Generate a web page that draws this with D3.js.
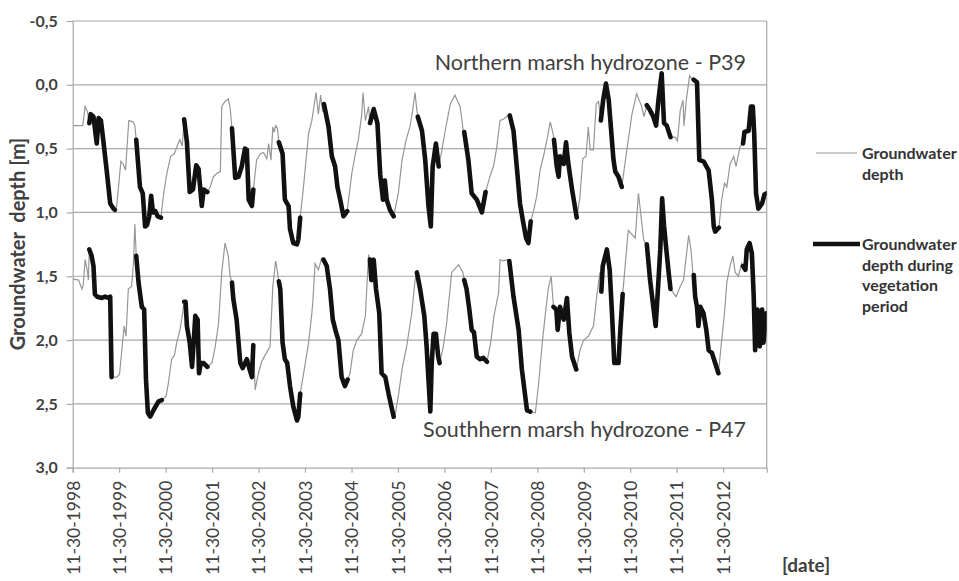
<!DOCTYPE html>
<html>
<head>
<meta charset="utf-8">
<script src="https://cdn.jsdelivr.net/npm/d3@7"></script>
<style>
  html, body { margin: 0; padding: 0; background: #fff; }
  svg { display: block; font-family: Lato, "Open Sans", sans-serif; }
</style>
</head>
<body>
<svg id="chart" width="959" height="581"></svg>
<script>
// [decimal year, groundwater depth (m), vegetation period flag]
const p39 = [
[1998.91,0.32,0],[1999.13,0.32,0],[1999.18,0.17,0],[1999.23,0.21,0],
[1999.27,0.30,1],[1999.30,0.23,1],[1999.36,0.25,1],[1999.43,0.46,1],[1999.47,0.26,1],[1999.52,0.28,1],[1999.56,0.40,1],[1999.65,0.69,1],[1999.72,0.93,1],[1999.79,0.97,1],[1999.82,0.98,1],
[1999.86,0.95,0],[1999.95,0.60,0],[2000.00,0.62,0],[2000.05,0.67,0],[2000.12,0.28,0],[2000.21,0.29,0],[2000.25,0.32,0],
[2000.28,0.43,1],[2000.36,0.80,1],[2000.42,0.85,1],[2000.47,1.11,1],[2000.51,1.10,1],[2000.56,1.03,1],[2000.60,0.87,1],[2000.64,1.00,1],[2000.69,0.99,1],[2000.74,1.03,1],[2000.81,1.04,1],
[2000.87,0.85,0],[2000.94,0.69,0],[2001.02,0.56,0],[2001.10,0.54,0],[2001.17,0.47,0],[2001.22,0.43,0],[2001.27,0.48,0],
[2001.31,0.27,1],[2001.37,0.45,1],[2001.43,0.84,1],[2001.50,0.82,1],[2001.57,0.63,1],[2001.62,0.66,1],[2001.69,0.95,1],[2001.73,0.82,1],[2001.81,0.84,1],
[2001.87,0.80,0],[2001.94,0.72,0],[2002.03,0.69,0],[2002.09,0.68,0],[2002.12,0.17,0],[2002.19,0.13,0],[2002.26,0.11,0],[2002.30,0.18,0],
[2002.34,0.34,1],[2002.41,0.73,1],[2002.48,0.72,1],[2002.55,0.64,1],[2002.62,0.50,1],[2002.66,0.51,1],[2002.70,0.90,1],[2002.77,0.95,1],[2002.80,0.82,1],
[2002.87,0.59,0],[2002.95,0.54,0],[2003.02,0.53,0],[2003.09,0.58,0],[2003.13,0.46,0],[2003.18,0.59,0],[2003.22,0.33,0],[2003.25,0.37,0],[2003.28,0.32,0],[2003.32,0.34,0],
[2003.35,0.45,1],[2003.43,0.54,1],[2003.48,0.90,1],[2003.56,0.95,1],[2003.59,1.13,1],[2003.66,1.24,1],[2003.74,1.25,1],[2003.77,1.21,1],[2003.81,1.04,1],
[2003.88,0.80,0],[2003.99,0.38,0],[2004.06,0.28,0],[2004.15,0.06,0],[2004.20,0.23,0],[2004.25,0.08,0],[2004.29,0.21,0],
[2004.32,0.15,1],[2004.42,0.33,1],[2004.49,0.56,1],[2004.56,0.64,1],[2004.61,0.80,1],[2004.67,0.90,1],[2004.74,1.03,1],[2004.82,0.99,1],
[2004.92,0.69,0],[2004.99,0.55,0],[2005.06,0.43,0],[2005.13,0.24,0],[2005.16,0.06,0],[2005.21,0.28,0],[2005.28,0.17,0],
[2005.31,0.30,1],[2005.39,0.19,1],[2005.47,0.30,1],[2005.53,0.70,1],[2005.59,0.90,1],[2005.63,0.75,1],[2005.67,0.90,1],[2005.74,0.98,1],[2005.82,1.03,1],
[2005.92,0.85,0],[2006.00,0.59,0],[2006.09,0.43,0],[2006.17,0.33,0],[2006.23,0.20,0],[2006.28,0.06,0],[2006.32,0.20,0],
[2006.34,0.25,1],[2006.43,0.36,1],[2006.50,0.59,1],[2006.57,0.95,1],[2006.62,1.11,1],[2006.66,0.64,1],[2006.73,0.46,1],[2006.79,0.64,1],
[2006.86,0.51,0],[2006.93,0.36,0],[2007.04,0.15,0],[2007.14,0.08,0],[2007.25,0.17,0],[2007.32,0.36,0],
[2007.34,0.37,1],[2007.43,0.59,1],[2007.50,0.85,1],[2007.61,0.90,1],[2007.72,1.00,1],[2007.80,0.84,1],
[2007.90,0.71,0],[2007.97,0.64,0],[2008.04,0.49,0],[2008.11,0.28,0],[2008.18,0.27,0],[2008.29,0.24,0],
[2008.32,0.24,1],[2008.40,0.36,1],[2008.47,0.64,1],[2008.54,0.93,1],[2008.60,1.06,1],[2008.67,1.20,1],[2008.72,1.24,1],[2008.77,1.07,1],
[2008.83,0.99,0],[2008.90,0.87,0],[2008.97,0.67,0],[2009.05,0.55,0],[2009.12,0.43,0],[2009.19,0.29,0],[2009.25,0.38,0],
[2009.27,0.43,1],[2009.33,0.64,1],[2009.37,0.72,1],[2009.40,0.56,1],[2009.48,0.62,1],[2009.53,0.45,1],[2009.58,0.62,1],[2009.66,0.82,1],[2009.76,1.04,1],
[2009.83,0.88,0],[2009.89,0.58,0],[2009.96,0.56,0],[2010.01,0.33,0],[2010.05,0.51,0],[2010.12,0.51,0],[2010.18,0.15,0],[2010.23,0.13,0],
[2010.28,0.28,1],[2010.33,0.12,1],[2010.39,-0.01,1],[2010.45,0.12,1],[2010.55,0.58,1],[2010.59,0.68,1],[2010.66,0.72,1],[2010.73,0.80,1],
[2010.84,0.51,0],[2010.95,0.23,0],[2011.05,0.07,0],[2011.16,0.17,0],[2011.21,0.25,0],
[2011.27,0.16,1],[2011.34,0.20,1],[2011.41,0.25,1],[2011.47,0.32,1],[2011.52,0.12,1],[2011.59,-0.09,1],[2011.64,0.30,1],[2011.70,0.32,1],[2011.78,0.41,1],
[2011.88,0.41,0],[2011.93,0.44,0],[2011.99,0.20,0],[2012.05,0.12,0],[2012.07,0.32,0],[2012.12,0.12,0],[2012.19,-0.07,0],[2012.25,-0.04,0],
[2012.28,-0.04,1],[2012.35,-0.02,1],[2012.40,0.59,1],[2012.49,0.60,1],[2012.60,0.67,1],[2012.67,0.90,1],[2012.71,1.11,1],[2012.74,1.15,1],[2012.82,1.12,1],
[2012.88,0.90,0],[2012.94,0.77,0],[2012.99,0.80,0],[2013.06,0.62,0],[2013.14,0.56,0],[2013.19,0.64,0],[2013.27,0.49,0],[2013.32,0.46,0],
[2013.34,0.46,1],[2013.37,0.37,1],[2013.46,0.36,1],[2013.51,0.17,1],[2013.55,0.17,1],[2013.58,0.38,1],[2013.62,0.85,1],[2013.67,0.97,1],[2013.75,0.93,1],[2013.80,0.86,1],[2013.85,0.85,1]
];

const p47 = [
[1998.91,1.52,0],[1999.04,1.53,0],[1999.11,1.60,0],[1999.14,1.57,0],[1999.18,1.37,0],[1999.23,1.46,0],[1999.25,1.53,0],
[1999.27,1.29,1],[1999.32,1.34,1],[1999.36,1.42,1],[1999.39,1.64,1],[1999.44,1.66,1],[1999.54,1.67,1],[1999.61,1.66,1],[1999.68,1.67,1],[1999.72,1.66,1],[1999.75,2.29,1],
[1999.86,2.29,0],[1999.92,2.27,0],[1999.97,2.08,0],[2000.02,1.89,0],[2000.06,1.97,0],[2000.11,1.60,0],[2000.18,1.58,0],[2000.22,1.40,0],[2000.25,1.09,0],
[2000.28,1.34,1],[2000.33,1.55,1],[2000.40,1.74,1],[2000.45,1.76,1],[2000.49,2.31,1],[2000.53,2.57,1],[2000.58,2.60,1],[2000.65,2.55,1],[2000.76,2.48,1],[2000.83,2.47,1],
[2000.92,2.44,0],[2000.97,2.34,0],[2001.04,2.15,0],[2001.10,2.12,0],[2001.15,2.02,0],[2001.22,1.92,0],[2001.27,1.81,0],
[2001.31,1.70,1],[2001.34,1.70,1],[2001.37,1.89,1],[2001.43,2.02,1],[2001.48,2.21,1],[2001.51,2.05,1],[2001.55,1.81,1],[2001.60,1.84,1],[2001.63,2.26,1],[2001.67,2.18,1],[2001.73,2.18,1],[2001.81,2.21,1],
[2001.91,2.18,0],[2001.98,2.05,0],[2002.05,1.87,0],[2002.12,1.47,0],[2002.19,1.24,0],[2002.26,1.34,0],[2002.30,1.50,0],
[2002.34,1.55,1],[2002.37,1.68,1],[2002.44,1.84,1],[2002.52,2.18,1],[2002.57,2.22,1],[2002.66,2.15,1],[2002.72,2.23,1],[2002.77,2.29,1],[2002.80,2.04,1],
[2002.84,2.39,0],[2002.91,2.26,0],[2002.98,2.17,0],[2003.05,2.12,0],[2003.16,2.05,0],[2003.22,1.58,0],[2003.28,1.38,0],[2003.32,1.47,0],
[2003.35,1.54,1],[2003.38,1.60,1],[2003.43,2.02,1],[2003.48,2.15,1],[2003.53,2.18,1],[2003.59,2.36,1],[2003.66,2.52,1],[2003.74,2.63,1],[2003.77,2.60,1],[2003.81,2.42,1],
[2003.92,2.18,0],[2003.99,2.02,0],[2004.06,1.79,0],[2004.08,1.71,0],[2004.13,1.40,0],[2004.20,1.45,0],[2004.27,1.36,0],
[2004.31,1.37,1],[2004.38,1.42,1],[2004.45,1.60,1],[2004.51,1.84,1],[2004.58,1.94,1],[2004.63,2.00,1],[2004.70,2.29,1],[2004.77,2.36,1],[2004.83,2.31,1],
[2004.88,2.26,0],[2004.95,2.08,0],[2005.03,2.00,0],[2005.13,1.95,0],[2005.21,1.81,0],[2005.28,1.33,0],
[2005.31,1.37,1],[2005.34,1.53,1],[2005.39,1.37,1],[2005.44,1.60,1],[2005.51,1.79,1],[2005.56,2.26,1],[2005.64,2.29,1],[2005.71,2.42,1],[2005.82,2.60,1],
[2005.85,2.59,0],[2005.92,2.44,0],[2006.00,2.23,0],[2006.10,2.05,0],[2006.21,1.79,0],[2006.28,1.53,0],
[2006.32,1.47,1],[2006.39,1.60,1],[2006.48,1.81,1],[2006.53,2.05,1],[2006.57,2.31,1],[2006.61,2.56,1],[2006.64,2.18,1],[2006.68,1.95,1],[2006.73,1.95,1],[2006.78,2.13,1],[2006.81,2.18,1],
[2006.89,2.05,0],[2006.96,1.87,0],[2007.07,1.47,0],[2007.22,1.41,0],[2007.31,1.47,0],
[2007.34,1.53,1],[2007.39,1.60,1],[2007.45,1.76,1],[2007.50,1.92,1],[2007.55,1.94,1],[2007.61,2.13,1],[2007.68,2.15,1],[2007.75,2.14,1],[2007.83,2.17,1],
[2007.91,2.02,0],[2007.98,1.81,0],[2008.08,1.63,0],[2008.11,1.37,0],[2008.18,1.38,0],[2008.26,1.37,0],
[2008.31,1.38,1],[2008.40,1.66,1],[2008.51,1.92,1],[2008.58,2.23,1],[2008.69,2.55,1],[2008.76,2.56,1],
[2008.87,2.57,0],[2008.94,2.34,0],[2009.01,2.05,0],[2009.08,1.81,0],[2009.15,1.59,0],[2009.21,1.50,0],
[2009.26,1.74,1],[2009.32,1.76,1],[2009.35,1.92,1],[2009.40,1.74,1],[2009.48,1.84,1],[2009.55,1.67,1],[2009.60,1.94,1],[2009.66,2.13,1],[2009.75,2.23,1],
[2009.83,2.08,0],[2009.91,2.00,0],[2010.01,1.97,0],[2010.12,1.89,0],[2010.19,1.66,0],[2010.26,1.47,0],
[2010.29,1.62,1],[2010.32,1.42,1],[2010.41,1.29,1],[2010.47,1.45,1],[2010.52,1.79,1],[2010.57,2.18,1],[2010.66,2.18,1],[2010.70,1.92,1],[2010.75,1.64,1],
[2010.87,1.14,0],[2011.02,1.20,0],[2011.09,0.85,0],[2011.20,1.21,0],[2011.25,1.25,0],
[2011.27,1.25,1],[2011.34,1.53,1],[2011.41,1.74,1],[2011.46,1.89,1],[2011.50,1.66,1],[2011.56,1.29,1],[2011.60,0.89,1],[2011.64,1.10,1],[2011.69,1.29,1],[2011.74,1.47,1],[2011.78,1.60,1],
[2011.84,1.63,0],[2011.90,1.66,0],[2011.99,1.58,0],[2012.06,1.53,0],[2012.12,1.34,0],[2012.17,1.18,0],[2012.22,1.29,0],[2012.26,1.47,0],
[2012.28,1.49,1],[2012.31,1.66,1],[2012.35,1.74,1],[2012.38,1.89,1],[2012.42,1.74,1],[2012.49,1.79,1],[2012.55,1.92,1],[2012.60,2.08,1],[2012.67,2.10,1],[2012.74,2.18,1],[2012.81,2.26,1],
[2012.88,2.00,0],[2012.94,1.79,0],[2012.99,1.55,0],[2013.06,1.42,0],[2013.12,1.34,0],[2013.17,1.47,0],[2013.24,1.50,0],[2013.31,1.40,0],
[2013.34,1.42,1],[2013.39,1.45,1],[2013.42,1.29,1],[2013.48,1.24,1],[2013.53,1.32,1],[2013.57,1.66,1],[2013.60,2.08,1],[2013.65,1.76,1],[2013.70,2.05,1],[2013.75,1.76,1],[2013.78,2.02,1],[2013.84,1.79,1]
];

const xTickDates = ["1998-11-30","1999-11-30","2000-11-30","2001-11-30","2002-11-30","2003-11-30","2004-11-30","2005-11-30","2006-11-30","2007-11-30","2008-11-30","2009-11-30","2010-11-30","2011-11-30","2012-11-30"];
const xTickLabels = ["11-30-1998","11-30-1999","11-30-2000","11-30-2001","11-30-2002","11-30-2003","11-30-2004","11-30-2005","11-30-2006","11-30-2007","11-30-2008","11-30-2009","11-30-2010","11-30-2011","11-30-2012"];
const yTicks = [-0.5, 0.0, 0.5, 1.0, 1.5, 2.0, 2.5, 3.0];
const yTickLabels = ["-0,5","0,0","0,5","1,0","1,5","2,0","2,5","3,0"];
const xDomain = ["1998-11-30","2013-11-07"];
const yDomain = [-0.5, 3.0];
const legendLabels = [["Groundwater","depth"],["Groundwater","depth during","vegetation","period"]];
const zoneLabels = ["Northern marsh hydrozone - P39","Southhern marsh hydrozone - P47"];

function decToDate(y) {
  const yr = Math.floor(y);
  const a = new Date(yr, 0, 1), b = new Date(yr + 1, 0, 1);
  return new Date(+a + (y - yr) * (b - a));
}
const parse = d3.timeParse("%Y-%m-%d");

const svg = d3.select("#chart");
const L = 72.7, R = 766.7, T = 21, B = 467.7;
const x = d3.scaleTime().domain(xDomain.map(parse)).range([L, R]);
const y = d3.scaleLinear().domain(yDomain).range([T, B]);

const gridColor = "#a9a9a9";
const textColor = "#404040";

// gridlines
svg.append("g").selectAll("line").data(yTicks.slice(0, -1)).join("line")
  .attr("x1", L).attr("x2", R).attr("y1", d => y(d)).attr("y2", d => y(d))
  .attr("stroke", gridColor).attr("stroke-width", 1.2);

// y axis
const yAxis = d3.axisLeft(y).tickValues(yTicks).tickSize(6).tickFormat((d, i) => yTickLabels[i]);
const gy = svg.append("g").attr("transform", `translate(${L},0)`).call(yAxis);
gy.select(".domain").attr("stroke", gridColor).attr("stroke-width", 1.2);
gy.selectAll(".tick line").attr("stroke", gridColor).attr("stroke-width", 1.2);
gy.selectAll(".tick text").attr("x", -15).attr("fill", textColor)
  .style("font-family", "Lato").style("font-weight", "bold").style("font-size", "16px");

// x axis
const xAxis = d3.axisBottom(x).tickValues(xTickDates.map(parse)).tickSize(5).tickFormat((d, i) => xTickLabels[i]);
const gx = svg.append("g").attr("transform", `translate(0,${B})`).call(xAxis);
gx.select(".domain").attr("stroke", gridColor).attr("stroke-width", 1.2);
gx.selectAll(".tick line").attr("stroke", gridColor).attr("stroke-width", 1.2);
gx.selectAll(".tick text")
  .attr("transform", "rotate(-90)")
  .attr("text-anchor", "end")
  .attr("x", -13).attr("y", 0).attr("dy", "0.36em")
  .attr("fill", textColor)
  .style("font-family", "Lato").style("font-size", "17.5px");

// right border
svg.append("line").attr("x1", R).attr("x2", R).attr("y1", T).attr("y2", B)
  .attr("stroke", gridColor).attr("stroke-width", 1.2);

// clip
svg.append("clipPath").attr("id", "plotclip").append("rect")
  .attr("x", L).attr("y", T - 10).attr("width", R - L).attr("height", B - T + 10);

const line = d3.line().x(d => x(decToDate(d[0]))).y(d => y(d[1]));
const vegLine = d3.line().defined(d => d[2] === 1).x(d => x(decToDate(d[0]))).y(d => y(d[1]));

const plot = svg.append("g").attr("clip-path", "url(#plotclip)");
[p39, p47].forEach(series => {
  plot.append("path").datum(series).attr("d", line)
    .attr("fill", "none").attr("stroke", "#969696").attr("stroke-width", 1.2);
});
[p39, p47].forEach(series => {
  plot.append("path").datum(series).attr("d", vegLine)
    .attr("fill", "none").attr("stroke", "#111").attr("stroke-width", 4.6)
    .attr("stroke-linejoin", "round").attr("stroke-linecap", "round");
});

// zone labels
svg.append("text").attr("x", 746).attr("y", 70).attr("text-anchor", "end")
  .attr("fill", textColor).style("font-size", "21.5px").text(zoneLabels[0]);
svg.append("text").attr("x", 746).attr("y", 437).attr("text-anchor", "end")
  .attr("fill", textColor).style("font-size", "21.5px").text(zoneLabels[1]);

// axis titles
svg.append("text").attr("transform", "translate(25,244) rotate(-90)").attr("text-anchor", "middle")
  .attr("fill", textColor).style("font-weight", "bold").style("font-size", "20px")
  .attr("xml:space", "preserve").text("Groundwater  depth [m]");
svg.append("text").attr("x", 782).attr("y", 572)
  .attr("fill", textColor).style("font-weight", "bold").style("font-size", "19px").text("[date]");

// legend
const lg = svg.append("g");
lg.append("line").attr("x1", 816).attr("x2", 857).attr("y1", 153).attr("y2", 153)
  .attr("stroke", "#969696").attr("stroke-width", 1.2);
lg.append("line").attr("x1", 813).attr("x2", 860).attr("y1", 244).attr("y2", 244)
  .attr("stroke", "#111").attr("stroke-width", 4.6);
const lt1 = lg.append("text").attr("fill", "#333").style("font-weight", "bold").style("font-size", "16px");
legendLabels[0].forEach((s, i) => lt1.append("tspan").attr("x", 862).attr("y", 159 + i * 20.5).text(s));
const lt2 = lg.append("text").attr("fill", "#333").style("font-weight", "bold").style("font-size", "16px");
legendLabels[1].forEach((s, i) => lt2.append("tspan").attr("x", 862).attr("y", 250 + i * 20.5).text(s));
</script>
</body>
</html>
